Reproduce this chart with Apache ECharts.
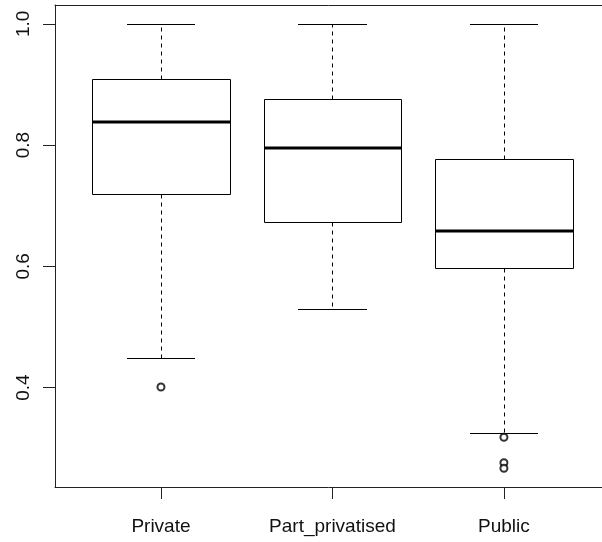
<!DOCTYPE html>
<html>
<head>
<meta charset="utf-8">
<script src="https://cdn.jsdelivr.net/npm/echarts@6/dist/echarts.min.js"></script>
<style>
html,body{margin:0;padding:0;background:#fff;}
#chart{width:602px;height:542px;}
</style>
</head>
<body>
<div id="chart"></div>
<script>
const categories = ['Private', 'Part_privatised', 'Public'];
const lowerWhisker = [0.449, 0.530, 0.325];
const q1Values = [0.719, 0.673, 0.597];
const medianValues = [0.838, 0.795, 0.658];
const q3Values = [0.909, 0.876, 0.777];
const upperWhisker = [1.0, 1.0, 1.0];
// [category index, value]
const outliers = [[0, 0.401], [2, 0.318], [2, 0.276], [2, 0.267]];
const yTicks = [0.4, 0.6, 0.8, 1.0];
const xTicks = [1, 2, 3];

const boxData = categories.map((c, i) => [i + 1, lowerWhisker[i], q1Values[i], medianValues[i], q3Values[i], upperWhisker[i]]);
const outlierData = outliers.map(o => [o[0] + 1, o[1]]);

const chart = echarts.init(document.getElementById('chart'), null, {renderer: 'canvas'});
const FONT = 'Liberation Sans, Arial, sans-serif';
const half = 0.4, staple = 0.2;

function px(v) { return Math.round(v) + 0.5; }

const frameLine = {show: true, lineStyle: {color: '#222', width: 1}};

chart.setOption({
  backgroundColor: '#fff',
  animation: false,
  grid: {left: 55, top: 5, width: 547, height: 482, show: false},
  xAxis: [{
    type: 'value', min: 0.382, max: 3.572, position: 'bottom',
    splitLine: {show: false},
    axisLine: frameLine,
    axisTick: {show: true, length: 12, customValues: xTicks, lineStyle: {color: '#222', width: 1}},
    axisLabel: {show: true, customValues: xTicks, margin: 30, fontFamily: FONT, fontSize: 19, color: '#111',
      formatter: v => categories[Math.round(v) - 1] || ''}
  }, {
    type: 'value', min: 0.382, max: 3.572, position: 'top',
    splitLine: {show: false},
    axisLine: frameLine,
    axisTick: {show: false},
    axisLabel: {show: false}
  }],
  yAxis: {
    type: 'value', min: 0.236, max: 1.031,
    splitLine: {show: false},
    axisLine: frameLine,
    axisTick: {show: true, length: 12, customValues: yTicks, lineStyle: {color: '#222', width: 1}},
    axisLabel: {show: true, customValues: yTicks, rotate: 90, margin: 22, fontFamily: FONT, fontSize: 19, color: '#111',
      formatter: v => v.toFixed(1)}
  },
  series: [
    {
      type: 'custom',
      data: boxData,
      encode: {x: 0, y: [1, 2, 3, 4, 5]},
      renderItem: function (params, api) {
        const x = api.value(0);
        const lo = api.value(1), q1 = api.value(2), med = api.value(3), q3 = api.value(4), hi = api.value(5);
        const tl = api.coord([x - half, q3]);
        const br = api.coord([x + half, q1]);
        const cx = px(api.coord([x, med])[0]);
        const sl = api.coord([x - staple, hi])[0];
        const sr = api.coord([x + staple, hi])[0];
        const yHi = px(api.coord([x, hi])[1]);
        const yLo = px(api.coord([x, lo])[1]);
        const yQ3 = px(tl[1]);
        const yQ1 = px(br[1]);
        const yMed = Math.round(api.coord([x, med])[1]);
        const xl = px(tl[0]), xr = px(br[0]);
        const solid = {stroke: '#000', lineWidth: 1, fill: null};
        const dashed = {stroke: '#000', lineWidth: 1, lineDash: [4, 4], fill: null};
        return {
          type: 'group',
          children: [
            {type: 'line', shape: {x1: cx, y1: yQ3, x2: cx, y2: yHi}, style: dashed},
            {type: 'line', shape: {x1: cx, y1: yQ1, x2: cx, y2: yLo}, style: dashed},
            {type: 'line', shape: {x1: Math.round(sl), y1: yHi, x2: Math.round(sr), y2: yHi}, style: solid},
            {type: 'line', shape: {x1: Math.round(sl), y1: yLo, x2: Math.round(sr), y2: yLo}, style: solid},
            {type: 'rect', shape: {x: xl, y: yQ3, width: xr - xl, height: yQ1 - yQ3}, style: {stroke: '#000', lineWidth: 1, fill: '#fff'}},
            {type: 'line', shape: {x1: xl, y1: yMed, x2: xr, y2: yMed}, style: {stroke: '#000', lineWidth: 3}}
          ]
        };
      }
    },
    {
      type: 'scatter',
      data: outlierData,
      symbol: 'emptyCircle',
      symbolSize: 7,
      itemStyle: {color: '#000', borderColor: '#000', borderWidth: 1},
      z: 5
    }
  ]
});
</script>
</body>
</html>
